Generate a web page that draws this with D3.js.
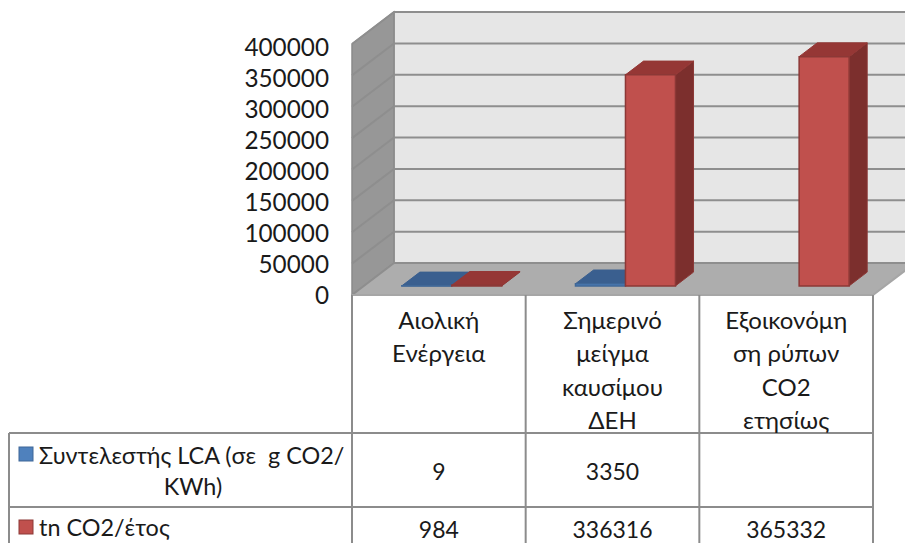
<!DOCTYPE html>
<html>
<head>
<meta charset="utf-8">
<script src="https://cdn.jsdelivr.net/npm/d3@7"></script>
<style>
  html, body { margin: 0; padding: 0; background: #fff; overflow: hidden; }
  text { font-family: Lato, "Open Sans", sans-serif; fill: #1a1a1a; white-space: pre; }
</style>
</head>
<body>
<svg id="chart" width="905" height="543"></svg>
<script>
// Chart data
const categories = ["Αιολική Ενέργεια", "Σημερινό μείγμα καυσίμου ΔΕΗ", "Εξοικονόμηση ρύπων CO2 ετησίως"];
const categoryLines = [
  ["Αιολική", "Ενέργεια"],
  ["Σημερινό", "μείγμα", "καυσίμου", "ΔΕΗ"],
  ["Εξοικονόμη", "ση ρύπων", "CO2", "ετησίως"]
];
const seriesNames = ["Συντελεστής LCA (σε  g CO2/ KWh)", "tn CO2/έτος"];
const lcaValues = [9, 3350, null];
const tonnesValues = [984, 336316, 365332];
const yTicks = [0, 50000, 100000, 150000, 200000, 250000, 300000, 350000, 400000];

const svg = d3.select("#chart");

// Plot box and oblique projection of the depth axis
const plot = { left: 352, right: 873, bottom: 295, top: 44, dx: 42, dy: -32 };
const x = d3.scaleBand().domain(categories).range([plot.left, plot.right]);
const y = d3.scaleLinear().domain([0, 400000]).range([plot.bottom, plot.top]);
const xInner = d3.scaleBand().domain(seriesNames).range([0, x.bandwidth()]).paddingInner(0).paddingOuter(0.737);
// Axis labels sit on a slightly tighter span than the gridlines
const yLabel = d3.scaleLinear().domain([0, 400000]).range([295.5, 47.5]);

// Project a point given in front-plane pixels at depth d (0 front, 1 back)
const project = (px, py, d) => [px + plot.dx * d, py + plot.dy * d];
const poly = pts => pts.map(p => p.join(",")).join(" ");

const walls = svg.append("g");
walls.append("polygon") // back wall
  .attr("points", poly([
    project(plot.left, plot.top, 1), project(plot.right, plot.top, 1),
    project(plot.right, plot.bottom, 1), project(plot.left, plot.bottom, 1)]))
  .attr("fill", "#e6e6e6");
walls.append("polygon") // side wall
  .attr("points", poly([
    project(plot.left, plot.top, 0), project(plot.left, plot.top, 1),
    project(plot.left, plot.bottom, 1), project(plot.left, plot.bottom, 0)]))
  .attr("fill", "#979797").attr("stroke", "#8a8a8a").attr("stroke-width", 1.5);
walls.append("polygon") // floor
  .attr("points", poly([
    project(plot.left, plot.bottom, 0), project(plot.right, plot.bottom, 0),
    project(plot.right, plot.bottom, 1), project(plot.left, plot.bottom, 1)]))
  .attr("fill", "#adadad");

// Gridlines run across the back wall and fold down the side wall
const grid = svg.append("g").attr("fill", "none").attr("stroke", "#8e8e8e").attr("stroke-width", 2);
yTicks.forEach(v => {
  const front = [plot.left, y(v)];
  const back = project(plot.left, y(v), 1);
  const backEnd = project(plot.right, y(v), 1);
  grid.append("polyline").attr("points", poly([front, back, backEnd]));
});
// Right floor edge and back-wall corner
grid.append("polyline")
  .attr("stroke", "#a6a6a6")
  .attr("points", poly([[plot.left, plot.bottom], [plot.right, plot.bottom], project(plot.right, plot.bottom, 1)]));
grid.append("line")
  .attr("x1", plot.left + plot.dx).attr("x2", plot.left + plot.dx)
  .attr("y1", y(400000) + plot.dy).attr("y2", y(0) + plot.dy)
  .attr("stroke", "#8e8e8e").attr("stroke-width", 1.5);

// 3D columns: each sits on the floor between depth 0.285 and 0.715
const d0 = 0.285, d1 = 0.715;
const barShift = 1;
const palette = [
  { front: "#4f81bd", top: "#3a5f8f", side: "#2f4d74", edge: "#3f6797" },
  { front: "#c0504d", top: "#953735", side: "#7c2f2d", edge: "#8c3836" }
];
const drawColumn = (g, px, value, c) => {
  const bw = xInner.bandwidth();
  const baseY = plot.bottom, topY = y(value);
  const pf = (a, b, d) => project(px + a * bw, b, d);
  g.append("polygon") // right side
    .attr("points", poly([pf(1, baseY, d0), pf(1, baseY, d1), pf(1, topY, d1), pf(1, topY, d0)]))
    .attr("fill", c.side).attr("stroke", c.edge).attr("stroke-width", 1);
  g.append("polygon") // top
    .attr("points", poly([pf(0, topY, d0), pf(1, topY, d0), pf(1, topY, d1), pf(0, topY, d1)]))
    .attr("fill", c.top).attr("stroke", c.top).attr("stroke-width", 1);
  g.append("polygon") // front
    .attr("points", poly([pf(0, baseY, d0), pf(1, baseY, d0), pf(1, topY, d0), pf(0, topY, d0)]))
    .attr("fill", c.front).attr("stroke", c.edge).attr("stroke-width", 1.5);
};

const bars = svg.append("g");
[lcaValues, tonnesValues].forEach((values, s) => {
  values.forEach((v, i) => {
    if (v === null) return;
    drawColumn(bars, x(categories[i]) + xInner(seriesNames[s]) + barShift, v, palette[s]);
  });
});

// Value axis labels
const axis = d3.axisLeft(yLabel).tickValues(yTicks).tickSize(0).tickPadding(0).tickFormat(d3.format("d"));
const axisG = svg.append("g").attr("transform", "translate(329,0)").call(axis);
axisG.select(".domain").remove();
axisG.selectAll("text").style("font-size", "24.3px").style("font-family", "Lato, sans-serif").attr("fill", "#1a1a1a");

// Data table under the plot; its last row runs off the bottom edge
const rowY = [433, 507];
const tableLeft = 9;
const table = svg.append("g").attr("stroke", "#8c8c8c").attr("stroke-width", 2).attr("fill", "none");
rowY.forEach(ry => {
  table.append("line").attr("x1", tableLeft).attr("x2", plot.right).attr("y1", ry).attr("y2", ry);
});
table.append("line").attr("x1", tableLeft).attr("x2", tableLeft).attr("y1", rowY[0]).attr("y2", 543);
[...categories.map(c => x(c)), plot.right].forEach(px => {
  table.append("line").attr("x1", px).attr("x2", px).attr("y1", plot.bottom).attr("y2", 543);
});

const center = x.bandwidth() / 2;
const tableFont = "24px";
categoryLines.forEach((lines, i) => {
  lines.forEach((t, j) => {
    svg.append("text").attr("x", x(categories[i]) + center).attr("y", 329 + j * 33.3)
      .attr("text-anchor", "middle").style("font-size", tableFont).text(t);
  });
});

[lcaValues, tonnesValues].forEach((values, s) => {
  const baseline = [480, 538][s];
  values.forEach((v, i) => {
    if (v === null) return;
    svg.append("text").attr("x", x(categories[i]) + center).attr("y", baseline)
      .attr("text-anchor", "middle").style("font-size", "23px").text(v);
  });
});

// Legend keys and series names in the first column
[447, 520].forEach((ky, s) => {
  svg.append("rect").attr("x", 19).attr("y", ky).attr("width", 14).attr("height", 14)
    .attr("fill", palette[s].front).attr("stroke", palette[s].edge).attr("stroke-width", 1);
});
svg.append("text").attr("x", 39).attr("y", 464).style("font-size", "23.4px").text("Συντελεστής LCA (σε  g CO2/");
svg.append("text").attr("x", 193).attr("y", 495).attr("text-anchor", "middle").style("font-size", "23.4px").text("KWh)");
svg.append("text").attr("x", 39).attr("y", 536).style("font-size", "23.4px").text(seriesNames[1]);
</script>
</body>
</html>
